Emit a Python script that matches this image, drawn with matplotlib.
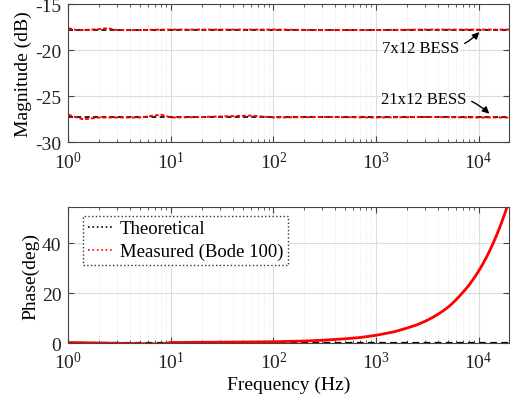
import matplotlib
matplotlib.use('Agg')
import matplotlib.pyplot as plt
from matplotlib.lines import Line2D

plt.rcParams['font.family'] = ['Liberation Serif', 'DejaVu Serif']
plt.rcParams['mathtext.fontset'] = 'custom'
plt.rcParams['mathtext.rm'] = 'Liberation Serif'
plt.rcParams['mathtext.it'] = 'Liberation Serif:italic'
plt.rcParams['axes.unicode_minus'] = False

# magnitude data (dB)
f_mag = [1, 1.2, 1.4, 2, 2.4, 3, 5, 8, 10, 20, 60, 100, 300, 1000, 3000, 10000, 20000]
mag_7x12 = [-17.6, -17.8, -17.8, -17.7, -17.6, -17.8, -17.8, -17.75, -17.75,
            -17.75, -17.75, -17.75, -17.8, -17.8, -17.75, -17.75, -17.75]
mag_21x12 = [-27.0, -27.3, -27.5, -27.3, -27.3, -27.3, -27.3, -27.0, -27.3,
             -27.25, -27.1, -27.3, -27.25, -27.3, -27.25, -27.3, -27.3]
f_theo = [1, 20000]
theo_7x12 = [-17.75, -17.75]
theo_21x12 = [-27.3, -27.3]

# phase data (deg)
f_ph = [1, 8, 10, 100, 200, 300, 500, 700, 1000, 1500, 2000, 2500, 3000, 3500,
        4000, 4500, 5000, 5500, 6000, 6500, 7000, 7500, 8000, 9000, 10000, 11000,
        12000, 13000, 14000, 15000, 16000, 17000, 18000, 19000, 20000]
ph_meas = [0.2, -0.4, 0.2, 0.5, 0.8, 1.1, 1.7, 2.2, 3.1, 4.5, 6.0, 7.3, 8.7, 10.1,
           11.5, 12.9, 14.3, 15.8, 17.3, 18.8, 20.3, 21.7, 23.1, 26.0, 28.9, 31.8,
           34.7, 37.6, 40.5, 43.4, 46.3, 49.2, 52.0, 54.9, 57.8]
ph_theo = [0, 0]

fig = plt.figure(figsize=(5.16, 4.06), dpi=100)
ax1 = fig.add_axes([0.1324, 0.647, 0.855, 0.340])
ax2 = fig.add_axes([0.1324, 0.1527, 0.855, 0.334])

ax1.plot(f_theo, theo_7x12, color='black', ls=(0, (3, 2)), lw=1.2)
ax1.plot(f_theo, theo_21x12, color='black', ls=(0, (3, 2)), lw=1.2)
ax1.plot(f_mag, mag_7x12, color='red', ls=(0, (2, 1)), lw=1.4)
ax1.plot(f_mag, mag_21x12, color='red', ls=(0, (2, 1)), lw=1.4)

ax2.plot(f_theo, ph_theo, color='black', ls=(0, (3, 2)), lw=1.6)
ax2.plot(f_ph, ph_meas, color='red', lw=2)

for ax in (ax1, ax2):
    ax.set_xscale('log')
    ax.set_xlim(1, 20000)
    ax.grid(True, which='major', color='#dddddd', lw=0.8)
    ax.grid(True, which='minor', color='#e4e4e4', lw=0.6, ls=':')
    ax.tick_params(which='both', direction='in', top=True, right=True, labelsize=14,
                   color='#444444', labelcolor='#222222')
    ax.tick_params(axis='x', which='major', pad=6)
    ax.tick_params(axis='y', which='major', pad=5)
    ax.tick_params(which='major', length=4)
    ax.tick_params(which='minor', length=2)
    for s in ax.spines.values():
        s.set_color('#444444')
        s.set_linewidth(0.8)
    ax.set_axisbelow(True)

ax1.set_ylim(-30, -15)
ax1.set_yticks([-30, -25, -20, -15])
ax1.set_ylabel('Magnitude (dB)', fontsize=14, labelpad=2)

ax1.annotate('7x12 BESS', xy=(10600, -17.8), xytext=(6500, -19.75),
             ha='right', va='center', fontsize=12,
             arrowprops=dict(arrowstyle='-|>', color='black', lw=1,
                             connectionstyle='arc3,rad=0.3', mutation_scale=10))
ax1.annotate('21x12 BESS', xy=(13300, -27.1), xytext=(7600, -25.3),
             ha='right', va='center', fontsize=12,
             arrowprops=dict(arrowstyle='-|>', color='black', lw=1,
                             connectionstyle='arc3,rad=-0.3', mutation_scale=10))

ax2.set_ylim(0, 54.5)
ax2.set_yticks([0, 20, 40])
ax2.set_ylabel('Phase(deg)', fontsize=14, labelpad=2)
ax2.set_xlabel('Frequency (Hz)', fontsize=14, labelpad=2)

handles = [Line2D([], [], color='black', ls=':', lw=1.2),
           Line2D([], [], color='red', ls=':', lw=1.2)]
leg = ax2.legend(handles, ['Theoretical', 'Measured (Bode 100)'], loc='upper left',
                 bbox_to_anchor=(0.034, 0.94), fontsize=13.5, fancybox=False,
                 framealpha=1, handlelength=1.4, handletextpad=0.3,
                 borderpad=0.25, labelspacing=0.3, borderaxespad=0)
leg.get_frame().set_edgecolor('#333333')
leg.get_frame().set_linestyle(':')
leg.get_frame().set_linewidth(1)

fig.savefig('out.png', dpi=100)
